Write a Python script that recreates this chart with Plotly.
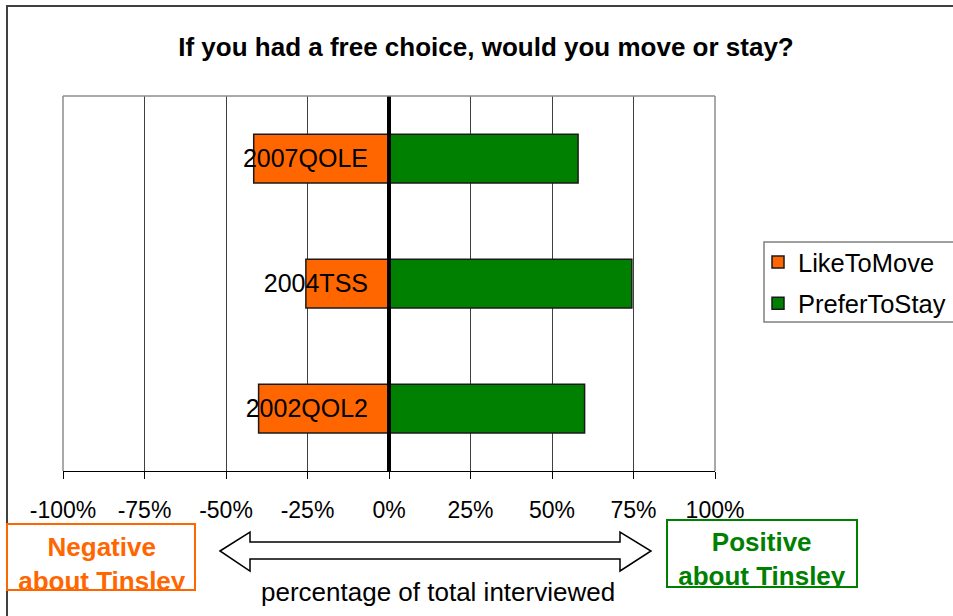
import plotly.graph_objects as go

# ---- data ----
categories = ["2002QOL2", "2004TSS", "2007QOLE"]
like_to_move = [-0.40, -0.255, -0.415]
prefer_to_stay = [0.60, 0.745, 0.58]
tick_values = [-1.0, -0.75, -0.5, -0.25, 0.0, 0.25, 0.5, 0.75, 1.0]
tick_labels = ["-100%", "-75%", "-50%", "-25%", "0%", "25%", "50%", "75%", "100%"]

W, H = 953, 616
L, R, T, B = 63, 715, 96, 471  # plot area in pixels
FONT = "Liberation Sans, Arial, sans-serif"


def px(x):
    return (x - L) / (R - L)


def py(y):
    return (B - y) / (B - T)


fig = go.Figure()
fig.add_trace(go.Bar(
    y=categories, x=like_to_move, orientation="h", name="LikeToMove",
    legendgroup="g1",
    marker=dict(color="#FF6600", line=dict(color="#1a1a1a", width=1.5)),
    width=0.39,
))
fig.add_trace(go.Bar(
    y=categories, x=prefer_to_stay, orientation="h", name="PreferToStay",
    legendgroup="g2",
    marker=dict(color="#008000", line=dict(color="#1a1a1a", width=1.5)),
    width=0.39,
))

shapes = []
# outer chart border
shapes.append(dict(type="rect", xref="paper", yref="paper",
                   x0=px(7), x1=px(990), y0=py(6), y1=py(650),
                   line=dict(color="#404040", width=2), layer="below"))
# gray plot-area border (left, top, right)
for x0, y0, x1, y1 in [(0, 0, 0, 1), (0, 1, 1, 1), (1, 0, 1, 1)]:
    shapes.append(dict(type="line", xref="paper", yref="paper",
                       x0=x0, x1=x1, y0=y0, y1=y1,
                       line=dict(color="#8c8c8c", width=1.5)))
# legend frame
shapes.append(dict(type="rect", xref="paper", yref="paper",
                   x0=px(764), x1=px(990), y0=py(242), y1=py(322),
                   line=dict(color="#808080", width=1.5)))
# boxes round the bottom notes
shapes.append(dict(type="rect", xref="paper", yref="paper",
                   x0=px(7), x1=px(195), y0=py(524), y1=py(590),
                   line=dict(color="#FF6600", width=2)))
shapes.append(dict(type="rect", xref="paper", yref="paper",
                   x0=px(667), x1=px(857), y0=py(520), y1=py(587),
                   line=dict(color="#008000", width=2)))
# double-headed block arrow
pts = [(220, 551), (250, 532), (250, 542), (620, 542), (620, 532), (651, 551),
       (620, 571), (620, 559), (250, 559), (250, 571)]
path = "M " + " L ".join(f"{px(x):.5f},{py(y):.5f}" for x, y in pts) + " Z"
shapes.append(dict(type="path", xref="paper", yref="paper", path=path,
                   line=dict(color="black", width=1.5), fillcolor="white"))

annotations = [
    dict(text="<b>Negative<br>about Tinsley</b>", xref="paper", yref="paper",
         x=px(102), y=py(531), xanchor="center", yanchor="top",
         showarrow=False, font=dict(family=FONT, size=26, color="#FF6600"),
         borderpad=0, width=184, height=58, valign="top", align="center"),
    dict(text="<b>Positive<br>about Tinsley</b>", xref="paper", yref="paper",
         x=px(762), y=py(526), xanchor="center", yanchor="top",
         showarrow=False, font=dict(family=FONT, size=26, color="#008000"),
         borderpad=0, width=186, height=59, valign="top", align="center"),
    dict(text="percentage of total interviewed", xref="paper", yref="paper",
         x=px(438), y=py(592), xanchor="center", yanchor="middle",
         showarrow=False, font=dict(family=FONT, size=26, color="black")),
]

fig.update_layout(
    width=W, height=H,
    margin=dict(l=L, r=W - R, t=T, b=H - B, autoexpand=False),
    paper_bgcolor="white", plot_bgcolor="white",
    barmode="relative",
    bargap=0.6,
    font=dict(family=FONT, color="black"),
    title=dict(text="<b>If you had a free choice, would you move or stay?</b>",
               x=486 / W, xref="container", xanchor="center",
               y=1 - 47 / H, yref="container", yanchor="middle",
               font=dict(family=FONT, size=26, color="black")),
    xaxis=dict(range=[-1, 1], tickvals=tick_values, ticktext=tick_labels,
               showgrid=True, gridcolor="#404040", gridwidth=1,
               showline=True, linecolor="black", linewidth=1,
               ticks="outside", ticklen=7, tickcolor="black",
               ticklabelstandoff=11,
               zeroline=False, tickfont=dict(family=FONT, size=23),
               fixedrange=True),
    yaxis=dict(type="category", categoryorder="array", categoryarray=categories,
               anchor="free", position=0.5, range=[-0.5, 2.5],
               showline=True, linecolor="black", linewidth=4,
               showgrid=False, zeroline=False, ticks="",
               ticklabelstandoff=14,
               tickfont=dict(family=FONT, size=25)),
    legend=dict(x=px(758), y=py(239), xanchor="left", yanchor="top",
                xref="paper", yref="paper",
                borderwidth=0, bgcolor="rgba(0,0,0,0)",
                font=dict(family=FONT, size=25.5), traceorder="grouped",
                tracegroupgap=5),
    shapes=shapes,
    annotations=annotations,
)

fig.write_html("out.html", config={"displayModeBar": False},
               post_script="document.body.style.margin='0px';document.body.style.overflow='hidden';")
